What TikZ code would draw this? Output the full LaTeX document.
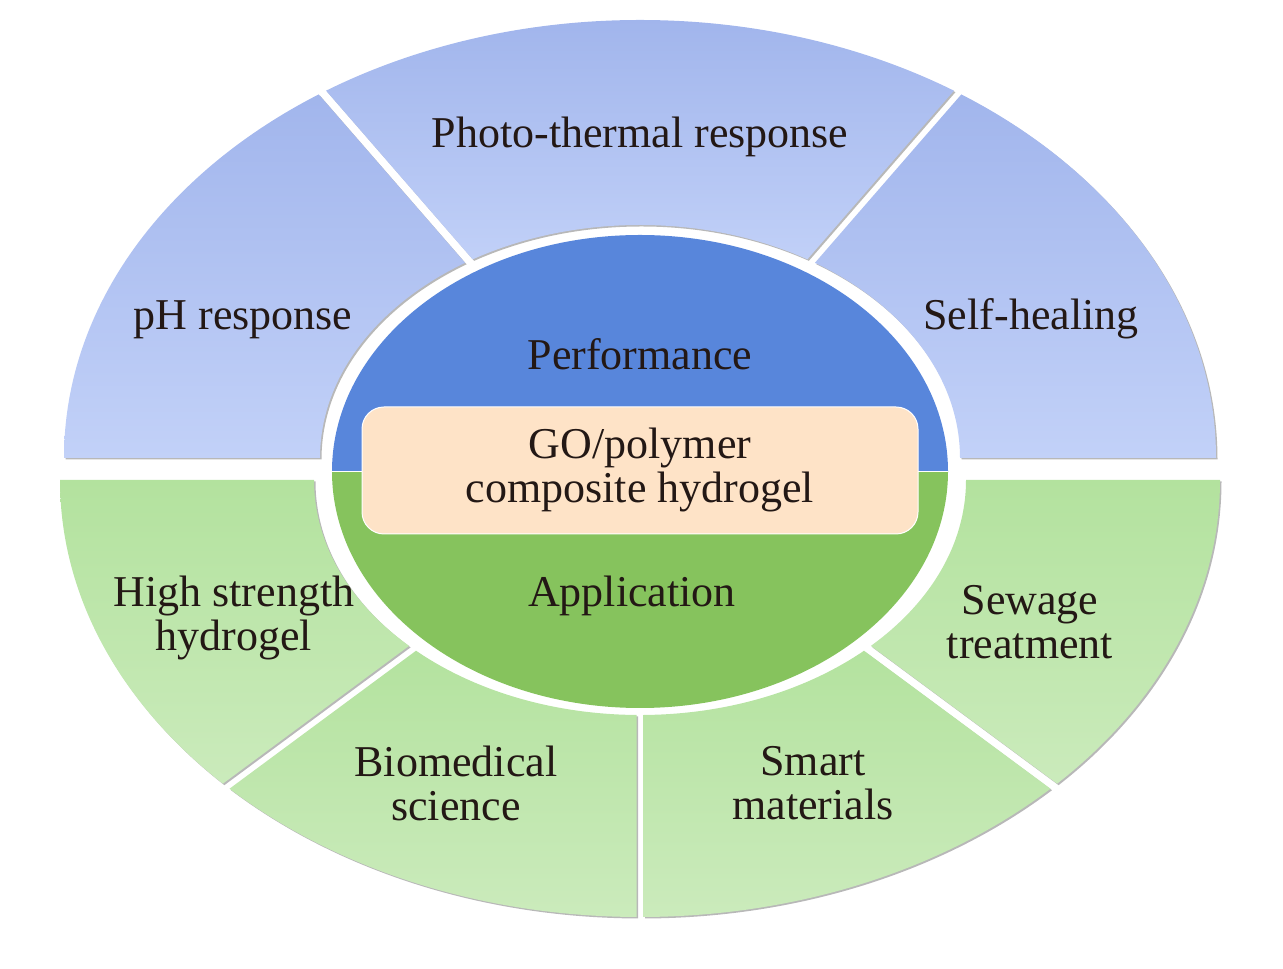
\documentclass[tikz,border=0pt]{standalone}
\usepackage{fontspec}
\setmainfont{Liberation Serif}
\definecolor{bluetop}{HTML}{A1B5EC}
\definecolor{bluebot}{HTML}{C2D1F8}
\definecolor{greentop}{HTML}{B3E29E}
\definecolor{greenbot}{HTML}{CBEBBC}
\definecolor{innerblue}{HTML}{5886DB}
\definecolor{innergreen}{HTML}{86C35D}
\definecolor{peach}{HTML}{FEE3C7}
\definecolor{ink}{HTML}{231815}
\newcommand\ringseg[4]{%
  \begin{scope}[shift={(1.5,-1.5)}]\clip #1; \fill[black!28] #2;\end{scope}
  \begin{scope}\clip #1; \clip #2; \shade[#4] #3;\end{scope}}
\begin{document}
\begin{tikzpicture}[x=1pt,y=1pt,
  lbl/.style={text=ink,font=\fontsize{44}{44}\selectfont,inner sep=0pt},
  mlbl/.style={lbl,align=center}]
\useasboundingbox (0,0) rectangle (1283,969);
\def\topann{(1216,511) arc[start angle=0,end angle=180,x radius=576,y radius=438] -- (320,511) arc[start angle=180,end angle=0,x radius=320,y radius=233] -- cycle}
\def\botann{(1220,489) arc[start angle=0,end angle=-180,x radius=580,y radius=437] -- (314,489) arc[start angle=180,end angle=360,x radius=326,y radius=235] -- cycle}
% top segments
\ringseg{(634.7,511) -- (109.9,1114.8) -- (-300,1114.8) -- (-300,511) -- cycle}{\topann}{(60,511) rectangle (640,880)}{top color=bluetop,bottom color=bluebot}
\ringseg{(640,517.1) -- (115.2,1120.9) -- (1164.8,1120.9) -- cycle}{\topann}{(300,700) rectangle (980,950)}{top color=bluetop,bottom color=bluebot}
\ringseg{(645.3,511) -- (1170.1,1114.8) -- (1600,1114.8) -- (1600,511) -- cycle}{\topann}{(640,511) rectangle (1220,880)}{top color=bluetop,bottom color=bluebot}
% bottom segments
\ringseg{(633.3,489) -- (-170.6,-105.8) -- (-400,-105.8) -- (-400,489) -- cycle}{\botann}{(55,180) rectangle (640,489)}{top color=greentop,bottom color=greenbot}
\ringseg{(636.5,481.4) -- (-167.4,-113.4) -- (636.5,-113.4) -- cycle}{\botann}{(200,50) rectangle (640,325)}{top color=greentop,bottom color=greenbot}
\ringseg{(643.5,481.4) -- (1447.4,-113.4) -- (643.5,-113.4) -- cycle}{\botann}{(640,50) rectangle (1080,325)}{top color=greentop,bottom color=greenbot}
\ringseg{(646.7,489) -- (1450.6,-105.8) -- (1700,-105.8) -- (1700,489) -- cycle}{\botann}{(640,180) rectangle (1225,489)}{top color=greentop,bottom color=greenbot}
% inner ellipse
\fill[innerblue] (332,497.5) arc[start angle=180,end angle=0,x radius=308,y radius=236.5] -- cycle;
\fill[innergreen] (332,497.5) arc[start angle=180,end angle=360,x radius=308,y radius=236.5] -- cycle;
\draw[white,line width=0.8pt] (332,497.5) -- (948,497.5);
\node[fill=peach,draw=white,line width=1pt,rounded corners=22pt,minimum width=556pt,minimum height=127pt,inner sep=0pt] (core) at (640,498.5) {};
% labels
\node[lbl,anchor=base] (ph) at (243,639) {pH response};
\node[lbl,anchor=base] (photo) at (640,821) {Photo-thermal response};
\node[lbl,anchor=base] (self) at (1031,639) {Self-healing};
\node[lbl,anchor=base] (perf) at (640,599) {Performance};
\node[lbl,anchor=base] (app) at (632,362) {Application};
\node[mlbl] (go) at (640,499) {GO/polymer\\composite hydrogel};
\node[mlbl] (hs) at (234,351) {High strength\\hydrogel};
\node[mlbl] (bio) at (456,186) {Biomedical\\science};
\node[mlbl] (smart) at (813,186) {Smart\\materials};
\node[mlbl] (sew) at (1030,347) {Sewage\\treatment};
\end{tikzpicture}
\end{document}
